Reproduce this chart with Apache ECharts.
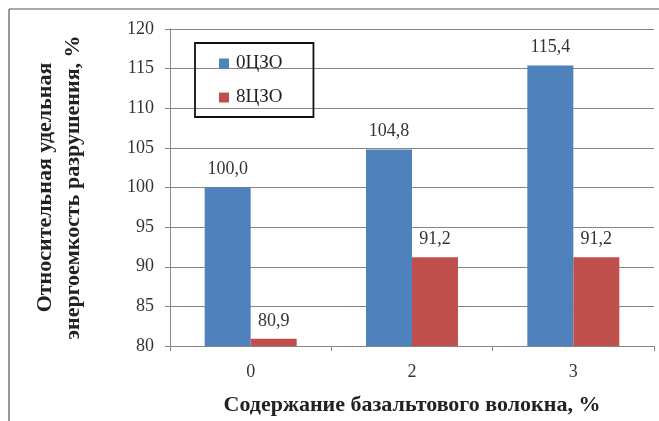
<!DOCTYPE html>
<html><head><meta charset="utf-8">
<script src="https://cdn.jsdelivr.net/npm/echarts@6/dist/echarts.min.js"></script>
<style>html,body{margin:0;padding:0;background:#fff}#c{width:659px;height:421px}</style>
</head><body><div id="c"></div>
<script>
const categories = ['0', '2', '3'];
const seriesNames = ['0ЦЗО', '8ЦЗО'];
const values0 = [100.0, 104.8, 115.4];
const values8 = [80.9, 91.2, 91.2];
const yTicks = {min: 80, max: 120, interval: 5};

const FONT = '"Liberation Serif", "Times New Roman", serif';
const fmt = p => p.value.toFixed(1).replace('.', ',');
const chart = echarts.init(document.getElementById('c'), null, {renderer: 'canvas'});
chart.setOption({
  animation: false,
  backgroundColor: '#fff',
  grid: {left: 170, right: 5, top: 29, bottom: 75, outerBoundsMode: 'none'},
  legend: {
    left: 195, top: 43,
    orient: 'vertical', itemGap: 15, padding: [11, 31, 10, 24],
    borderColor: '#111', borderWidth: 1.8,
    itemWidth: 10, itemHeight: 10, icon: 'rect',
    textStyle: {fontFamily: FONT, fontSize: 19, color: '#222', padding: [0, 0, 0, 2]},
    data: seriesNames
  },
  xAxis: {
    type: 'category', data: categories,
    axisLine: {lineStyle: {color: '#868686'}},
    axisTick: {show: true, length: 5, lineStyle: {color: '#868686'}},
    axisLabel: {fontFamily: FONT, fontSize: 18, color: '#333', margin: 17},
    name: 'Содержание базальтового волокна, %', nameLocation: 'middle', nameGap: 48,
    nameTextStyle: {fontFamily: FONT, fontSize: 22, fontWeight: 'bold', color: '#222'}
  },
  yAxis: {
    type: 'value', min: yTicks.min, max: yTicks.max, interval: yTicks.interval,
    axisLine: {show: true, lineStyle: {color: '#868686'}},
    axisTick: {show: true, length: 5, lineStyle: {color: '#868686'}},
    splitLine: {lineStyle: {color: '#868686'}},
    axisLabel: {fontFamily: FONT, fontSize: 18, color: '#333', margin: 16},
    name: 'Относительная удельная\nэнергоемкость разрушения, %', nameLocation: 'middle', nameGap: 83,
    nameTextStyle: {fontFamily: FONT, fontSize: 22, fontWeight: 'bold', color: '#222', lineHeight: 28}
  },
  graphic: [
    {type: 'line', shape: {x1: 9, y1: 9, x2: 659, y2: 9}, style: {stroke: '#555', lineWidth: 1.2}},
    {type: 'line', shape: {x1: 9, y1: 9, x2: 9, y2: 421}, style: {stroke: '#555', lineWidth: 1.2}}
  ],
  series: [
    {name: seriesNames[0], type: 'bar', data: values0, barWidth: 46, barGap: '0%',
     itemStyle: {color: '#4F81BD'},
     label: {show: true, position: 'top', distance: 9, formatter: fmt, fontFamily: FONT, fontSize: 18, color: '#333'}},
    {name: seriesNames[1], type: 'bar', data: values8, barWidth: 46,
     itemStyle: {color: '#C0504D'},
     label: {show: true, position: 'top', distance: 9, formatter: fmt, fontFamily: FONT, fontSize: 18, color: '#333'}}
  ]
});
</script></body></html>
